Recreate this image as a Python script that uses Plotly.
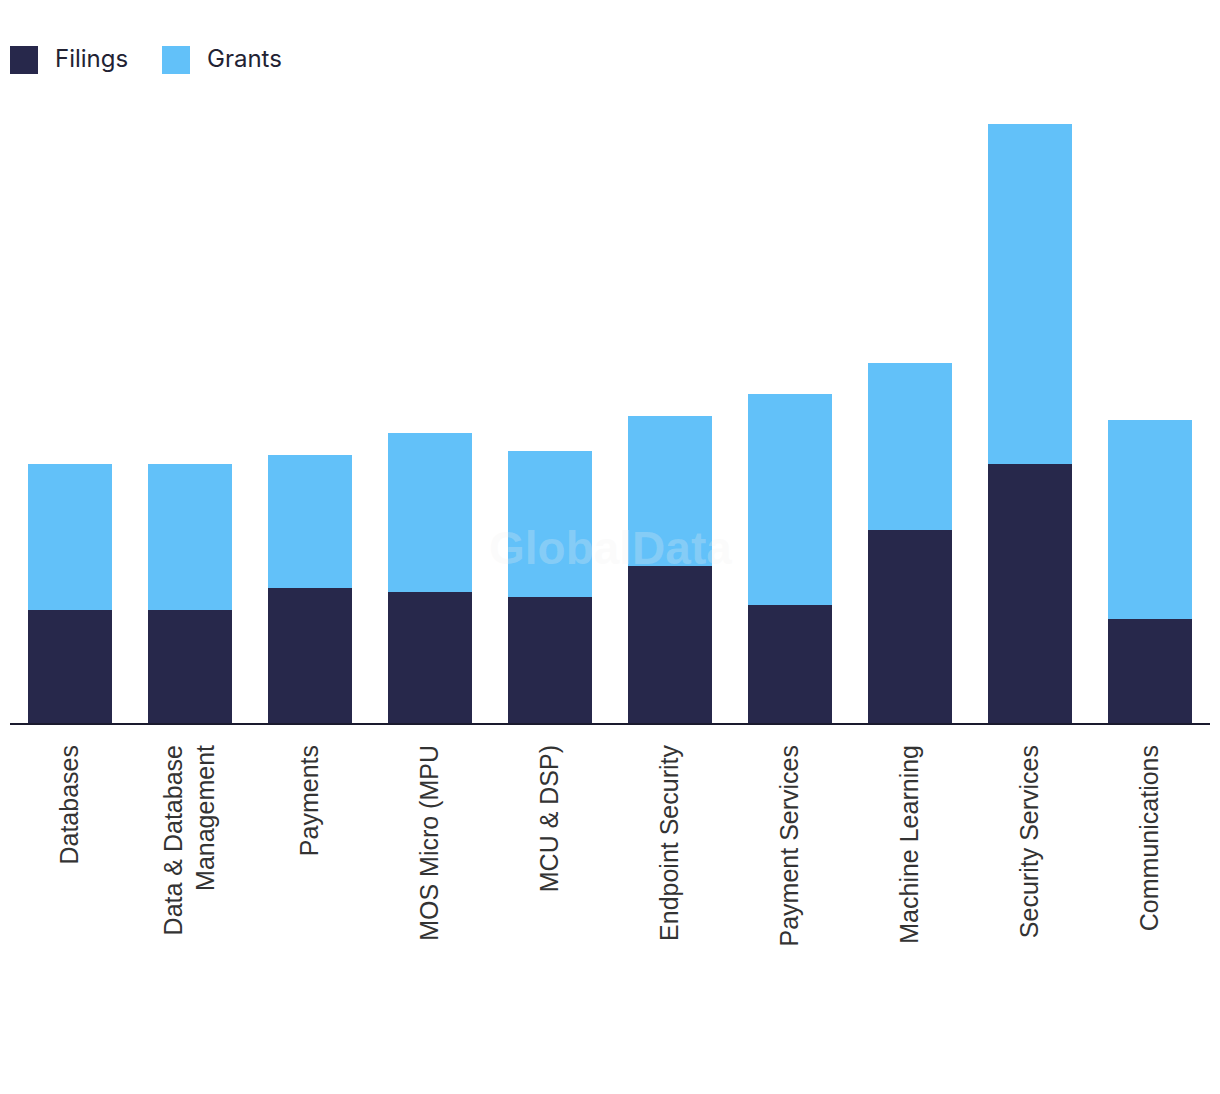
import plotly.graph_objects as go

categories = ["Databases", "Data & Database<br>Management", "Payments", "MOS Micro (MPU",
              "MCU & DSP)", "Endpoint Security", "Payment Services", "Machine Learning",
              "Security Services", "Communications"]
filings = [113, 113, 135, 131, 126, 157, 118, 193, 259, 104]
grants = [146, 146, 133, 159, 146, 150, 211, 167, 340, 199]

DARK = "#27284b"
LIGHT = "#62c1f9"

fig = go.Figure()
fig.add_trace(go.Bar(name="Filings", x=categories, y=filings, marker_color=DARK,
                     marker_line_width=0, showlegend=False))
fig.add_trace(go.Bar(name="Grants", x=categories, y=grants, marker_color=LIGHT,
                     marker_line_width=0, showlegend=False))

fig.update_layout(
    barmode="stack",
    bargap=0.3,
    width=1220, height=1094,
    margin=dict(l=2, r=18, t=92, b=379),
    plot_bgcolor="white", paper_bgcolor="white",
    xaxis=dict(tickangle=-90, showline=True, linecolor="#1a1a2e", linewidth=2,
               tickfont=dict(family="Liberation Sans, Arial", size=25, color="#333333"),
               ticks="", ticklabelstandoff=10, showgrid=False),
    yaxis=dict(visible=False, range=[0, 623], showgrid=False),
)

# watermark
fig.add_annotation(text="<b>GlobalData</b>", xref="paper", yref="paper", x=0.5,
                   y=(723 - 548) / 623, xanchor="center", yanchor="middle",
                   showarrow=False, font=dict(family="Liberation Sans, Arial", size=46,
                                              color="rgba(240,240,240,0.25)"))

# custom legend
for i, (name, col) in enumerate([("Filings", DARK), ("Grants", LIGHT)]):
    x0 = i * 152
    fig.add_shape(type="rect", xref="paper", yref="paper",
                  x0=x0 / 1200, x1=(x0 + 28) / 1200,
                  y0=(723 - 74) / 623, y1=(723 - 46) / 623,
                  fillcolor=col, line_width=0)
    fig.add_annotation(text=name, xref="paper", yref="paper",
                       x=(x0 + 45) / 1200, y=(723 - 59) / 623, xanchor="left", yanchor="middle",
                       showarrow=False, xshift=-2,
                       font=dict(family="Inter, Lato", size=24, color="#222233"))

fig.write_html("out.html")
